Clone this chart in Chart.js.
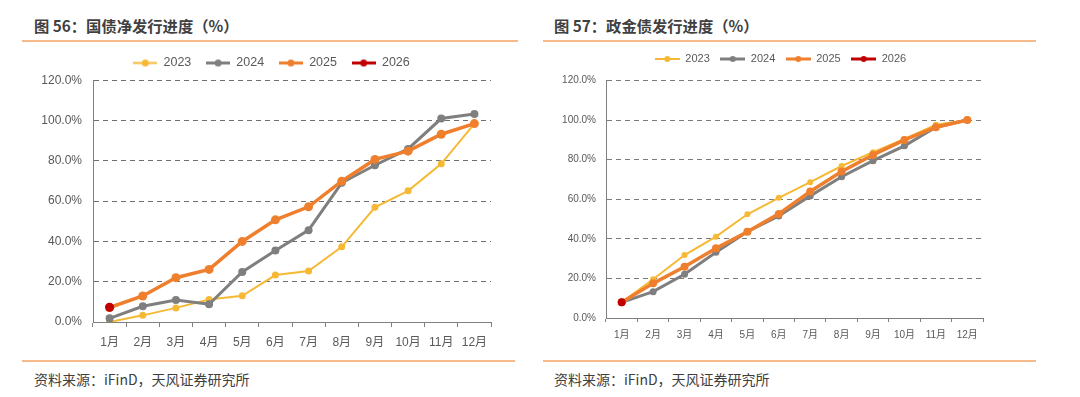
<!DOCTYPE html>
<html><head><meta charset="utf-8">
<script src="https://cdn.jsdelivr.net/npm/chart.js@4.4.1/dist/chart.umd.min.js"></script>
<style>
body{margin:0;background:#fff;width:1080px;height:397px;overflow:hidden;position:relative;font-family:"Noto Sans CJK SC",sans-serif;}
.title{position:absolute;font-size:15.3px;font-weight:bold;color:#404040;line-height:20px;top:15px;white-space:nowrap;}
.rule{position:absolute;height:2px;background:#F5B98A;}
.src{position:absolute;font-size:14px;color:#404040;top:370px;line-height:18px;white-space:nowrap;}
canvas{position:absolute;}
</style></head><body>
<div class="title" style="left:34px">图 56：国债净发行进度（%）</div>
<div class="title" style="left:554px">图 57：政金债发行进度（%）</div>
<div class="rule" style="left:22px;width:496px;top:40px"></div>
<div class="rule" style="left:543px;width:493px;top:40px"></div>
<div class="rule" style="left:22px;width:493px;top:360px"></div>
<div class="rule" style="left:543px;width:493px;top:360px"></div>
<div class="src" style="left:34px">资料来源：iFinD，天风证券研究所</div>
<div class="src" style="left:554px">资料来源：iFinD，天风证券研究所</div>
<canvas id="c1" width="483" height="310" style="left:30px;top:42px"></canvas>
<canvas id="c2" width="461" height="300" style="left:550px;top:43px"></canvas>
<script>
// ---- data ----
const categories = ['1月','2月','3月','4月','5月','6月','7月','8月','9月','10月','11月','12月'];
const seriesNames = ['2023','2024','2025','2026'];
const yTicks = [0, 20, 40, 60, 80, 100, 120];
// 图56 国债净发行进度 (%)
const gz2023 = [0, 3.3, 7.0, 11.2, 13.0, 23.3, 25.3, 37.3, 56.9, 65.1, 78.5, 98.5];
const gz2024 = [1.8, 7.8, 10.9, 8.8, 24.8, 35.5, 45.6, 69.1, 77.8, 85.9, 101.0, 103.3];
const gz2025 = [7.2, 12.9, 22.0, 26.1, 40.0, 50.7, 57.2, 69.9, 80.7, 84.8, 93.2, 98.5];
const gz2026 = [7.3, null, null, null, null, null, null, null, null, null, null, null];
// 图57 政金债发行进度 (%)
const zj2023 = [7.9, 19.6, 31.8, 41.1, 52.4, 60.7, 68.6, 76.8, 83.8, 90.5, 97.6, 100.0];
const zj2024 = [7.9, 13.3, 22.1, 33.2, 43.6, 51.6, 61.7, 71.4, 79.5, 87.0, 96.4, 100.0];
const zj2025 = [7.9, 17.5, 25.9, 35.2, 43.6, 52.6, 63.9, 74.0, 82.4, 90.0, 96.4, 100.0];
const zj2026 = [7.9, null, null, null, null, null, null, null, null, null, null, null];

const colors = ['#F6B935', '#7F7F7F', '#EF7F2D', '#C00000'];
const FONT = '"Liberation Sans", "Noto Sans CJK SC", sans-serif';

function legendImg(color, lw, r, w){
  const c = document.createElement('canvas');
  c.width = w; c.height = Math.ceil(2*r+2);
  const g = c.getContext('2d');
  g.strokeStyle = color; g.lineWidth = lw;
  g.beginPath(); g.moveTo(0, c.height/2); g.lineTo(w, c.height/2); g.stroke();
  g.fillStyle = color; g.beginPath(); g.arc(w/2, c.height/2, r, 0, Math.PI*2); g.fill();
  return c;
}

function makeChart(id, data, cfg){
  const imgs = colors.map((col,i)=>legendImg(col, cfg.legLw[i], cfg.legR, cfg.boxW));
  const datasets = data.map((d,i)=>({
    label: seriesNames[i], data: d,
    borderColor: colors[i], backgroundColor: colors[i],
    pointBackgroundColor: colors[i], pointBorderColor: colors[i],
    borderWidth: cfg.lw[i], pointRadius: cfg.pr[i], pointBorderWidth: 0,
    tension: 0, order: 3 - i, spanGaps: false
  }));
  return new Chart(document.getElementById(id), {
    type: 'line',
    data: { labels: categories, datasets },
    options: {
      responsive: false, animation: false, devicePixelRatio: 1,
      layout: { padding: 0 },
      plugins: {
        tooltip: { enabled: false },
        legend: {
          display: true, position: 'top', align: 'center',
          labels: {
            usePointStyle: true, pointStyleWidth: cfg.boxW,
            padding: cfg.legPad, color: '#595959',
            font: { family: FONT, size: cfg.legFont },
            sort: (a,b)=>a.datasetIndex-b.datasetIndex,
            generateLabels(chart){
              const items = Chart.defaults.plugins.legend.labels.generateLabels(chart);
              items.forEach(it=>{ it.pointStyle = imgs[it.datasetIndex]; });
              return items;
            }
          }
        }
      },
      scales: {
        x: {
          type: 'category', position: 'bottom', offset: true,
          grid: { display: true, drawOnChartArea: false, drawTicks: true, tickLength: cfg.xTick, offset: true, color: '#808080' },
          border: { display: true, color: '#808080', width: 1 },
          ticks: { color: '#595959', padding: cfg.xPad, autoSkip: false, maxRotation: 0, font: { family: FONT, size: cfg.tickFont } },
          afterFit(s){ s.height = cfg.xH; }
        },
        spTop: {
          type: 'linear', position: 'top', display: true,
          grid: { display: false }, border: { display: false }, ticks: { display: false },
          afterFit(s){ s.height = cfg.topSp; }
        },
        y: {
          type: 'linear', position: 'left', min: 0, max: 120,
          afterBuildTicks(s){ s.ticks = yTicks.map(v=>({value:v})); },
          grid: { display: true, drawTicks: false, color: cfg.gridColor, lineWidth: 1 },
          border: { display: true, color: '#808080', width: 1, dash: [5,4] },
          ticks: { color: '#595959', padding: cfg.yPad, font: { family: FONT, size: cfg.tickFont },
                   callback: v => v.toFixed(1) + '%' },
          afterFit(s){ s.width = cfg.yW; }
        },
        spRight: {
          type: 'linear', position: 'right', display: true,
          grid: { display: false }, border: { display: false }, ticks: { display: false },
          afterFit(s){ s.width = cfg.rightSp; }
        }
      }
    }
  });
}

makeChart('c1', [gz2023, gz2024, gz2025, gz2026], {
  lw: [2, 3, 3.5, 3.5], pr: [3.5, 4, 4.5, 4.5],
  legLw: [2, 3, 3, 3], legR: 3.5, boxW: 24, legPad: 14.75, legFont: 12.5,
  tickFont: 12, xTick: 5, xPad: 8, xH: 30, yPad: 11, yW: 63,
  topSp: 1, rightSp: 22, gridColor: '#6f6f6f'
});
makeChart('c2', [zj2023, zj2024, zj2025, zj2026], {
  lw: [2, 3, 3.5, 3], pr: [3, 3.5, 4, 4],
  legLw: [2, 3, 3, 3], legR: 3, boxW: 25, legPad: 10.5, legFont: 11,
  tickFont: 10, xTick: 4, xPad: 7, xH: 25, yPad: 10, yW: 56,
  topSp: 6, rightSp: 28, gridColor: '#7a7a7a'
});
</script>
</body></html>
